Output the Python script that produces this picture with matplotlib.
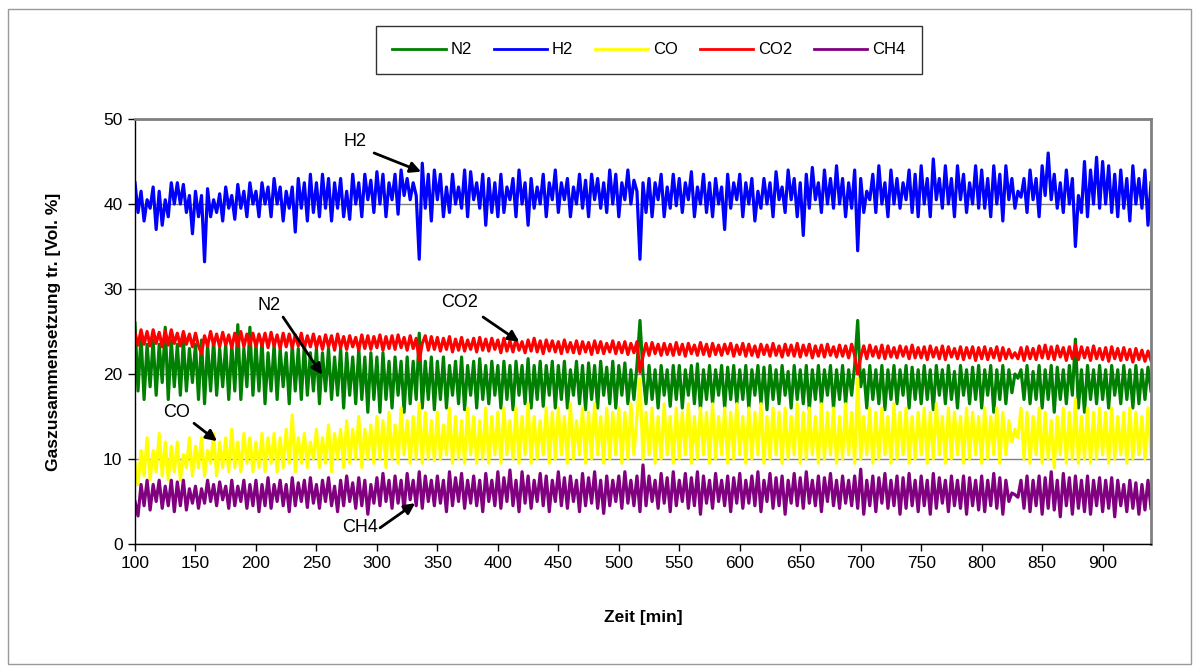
import numpy as np
import matplotlib
matplotlib.use("Agg")
import matplotlib.pyplot as plt
from matplotlib.patches import Rectangle

plt.rcParams['font.family'] = ['Liberation Sans', 'DejaVu Sans']

t_start = 100.0
t_step = 2.5

h2 = [
    42.5, 39, 41.5, 38, 40.5, 39.5, 42, 37, 41.5, 37.5, 40.5, 38.5, 42.5, 40, 42.5, 40, 42.3, 39, 41, 36.5,
    41.5, 38.5, 41, 33.2, 41.8, 38.5, 40.5, 39, 41.2, 38, 42, 39.5, 41, 38.2, 42.3, 39.5, 41.5, 38.5, 42.5, 40,
    41.5, 38.5, 42.5, 40, 42, 38.5, 43, 40, 42, 38, 41.5, 39.5, 42, 36.7, 43, 39.5, 42.5, 38, 43.5, 39,
    42.5, 38.5, 43.5, 39.5, 43, 38, 42.5, 39.5, 43, 38.5, 41.5, 38.2, 43.5, 40, 42.5, 38.5, 43.5, 40.5, 42.8, 39,
    43.8, 40, 43.5, 38.5, 42.5, 40.5, 43.5, 38.8, 44, 41, 43, 40.5, 42.5, 41, 33.5, 44.8, 39.5, 43.5, 38, 44,
    40.5, 43.5, 38.5, 42, 39, 43.5, 40, 42, 39.5, 44, 38.5, 43.8, 40.5, 42.5, 39.5, 43.5, 37.5, 43, 39, 42.5,
    38.5, 43.5, 39, 42, 40.5, 43, 38.5, 44, 40, 42.5, 37.5, 43, 39.5, 42, 40, 43.5, 38.5, 42.5, 40.5, 44,
    39, 42.5, 40.5, 43, 38.5, 42, 40, 43.5, 39.5, 42.8, 38.5, 43.5, 40.5, 43, 39.5, 42.5, 39, 44, 40, 43.5,
    38.5, 42.5, 40.5, 44, 40, 42.8, 41.5, 33.5, 42.5, 39, 43, 38.5, 42.5, 40.5, 43.5, 38.5, 42, 39.5, 43.5, 39.8,
    43, 39, 42.5, 40.5, 43.8, 38.5, 42, 40, 43.5, 39, 42.5, 38.5, 43, 40, 42, 37, 43.5, 39.5, 42.5, 40.5,
    43.5, 38.5, 42.5, 40, 43, 38, 41.5, 39.5, 43, 40, 42.5, 38.5, 43.8, 40.5, 42, 39, 44, 40.5, 43, 38.5,
    42.5, 36.3, 43.5, 39.5, 44.3, 40.5, 42.5, 39, 44, 40, 43, 39.5, 44.5, 40, 43, 38.5, 42.5, 39.5, 44, 34.5,
    43, 39, 41.5, 40.5, 43.5, 39, 44.5, 40, 42.5, 38.5, 44, 40, 43, 39.5, 42.5, 40.5, 44, 39, 43.5, 38.5,
    44.5, 40, 43, 38.5, 45.3, 40.5, 43, 39.5, 44.5, 40, 43, 38.5, 44.5, 40.5, 43.5, 39, 42.5, 40, 44.5, 39.5,
    44, 39.5, 43, 38.5, 44.5, 40, 43.5, 38, 44.5, 40.5, 43, 39.5, 41.5, 40.8, 43, 39, 44, 40.5, 43, 38.5,
    44.5, 41, 46, 40.5, 43.5, 39.5, 42.5, 39, 44, 40, 43, 35, 41, 39, 45, 38.5, 44, 40, 45.5, 39.5,
    45, 40, 44.5, 39, 43.5, 38.5, 44, 39.5, 43, 38, 44.5, 40, 43, 39.5, 44, 37.5, 42.5,
]

co2 = [
    24.8, 23.4, 25.2, 23.5, 25, 23.3, 25.2, 23.6, 24.9, 23.2, 25.1, 23.4, 25.2, 23.6, 24.8, 23.3, 25, 23.5, 24.7, 23.2,
    24.8, 23.3, 22.4, 24.5, 23.3, 25, 23.4, 24.7, 23.2, 24.9, 23.4, 24.6, 23.1, 24.8, 23.3, 25, 23.2, 24.7, 23.4, 24.8,
    23.2, 24.7, 23.3, 24.8, 23.1, 24.9, 23.3, 24.6, 23, 24.8, 23.2, 24.7, 23.1, 24.6, 23.3, 24.8, 23, 24.5, 23.2, 24.7,
    23.1, 24.4, 22.9, 24.6, 23.2, 24.5, 22.8, 24.7, 23.1, 24.4, 22.9, 24.5, 23.2, 24.3, 22.8, 24.6, 23, 24.5, 22.9, 24.4,
    23.1, 24.6, 22.8, 24.4, 23, 24.5, 22.9, 24.6, 23.1, 24.3, 22.8, 24.5, 23, 24.2, 21.6, 23.6, 24.5, 22.8, 24.4, 22.9,
    24.3, 22.7, 24.2, 22.9, 24.4, 22.6, 24.1, 22.8, 24.3, 22.7, 24, 22.9, 24.2, 22.6, 24.3, 22.8, 24.1, 22.7, 24.2, 22.9,
    24, 22.5, 24.2, 22.7, 23.9, 22.6, 24.1, 22.8, 23.8, 22.5, 24, 22.7, 24.2, 22.6, 23.9, 22.4, 24, 22.7, 23.9, 22.6,
    23.8, 22.4, 24, 22.6, 23.7, 22.5, 23.9, 22.4, 23.8, 22.6, 23.7, 22.3, 23.9, 22.5, 23.8, 22.4, 23.6, 22.6, 23.9, 22.4,
    23.7, 22.5, 23.8, 22.3, 23.6, 22.5, 23.8, 20.2, 22.1, 23.6, 22.2, 23.7, 22.4, 23.5, 22.2, 23.6, 22.3, 23.5, 22.2, 23.7,
    22.3, 23.5, 22.1, 23.6, 22.4, 23.4, 22.2, 23.7, 22.3, 23.5, 22.1, 23.6, 22.3, 23.4, 22.2, 23.5, 22.4, 23.6, 22.1, 23.4,
    22.3, 23.6, 22.1, 23.5, 22.2, 23.3, 22, 23.5, 22.3, 23.4, 22.1, 23.6, 22.2, 23.3, 22, 23.5, 22.2, 23.4, 22.1, 23.6,
    22, 23.4, 22.2, 23.5, 21.9, 23.3, 22.1, 23.4, 22, 23.5, 22.2, 23.2, 22, 23.4, 22.1, 23.3, 21.9, 23.5, 22.2, 20,
    22, 23.3, 21.8, 23.4, 22.1, 23.2, 21.9, 23.4, 21.8, 23.3, 22, 23.1, 21.9, 23.3, 22.1, 23.2, 21.8, 23.4, 21.9, 23.1,
    21.9, 23.2, 21.7, 23.3, 22, 23.1, 21.8, 23.3, 21.7, 23.2, 22, 23, 21.8, 23.2, 21.7, 23.1, 21.9, 23.2, 21.6, 23.1,
    21.8, 23.2, 21.7, 23, 21.9, 23.2, 21.6, 23.1, 21.8, 22.9, 21.9, 22.5, 21.8, 23.1, 21.6, 23.2, 21.8, 23, 21.7, 23.3,
    21.9, 23.4, 21.8, 23.2, 21.7, 23.3, 22, 23.1, 21.6, 23.2, 21.8, 23.4, 21.7, 23.2, 21.9, 23.1, 21.6, 23.3, 21.8, 23,
    21.7, 23.1, 21.5, 23.2, 21.8, 23, 21.6, 23.1, 21.7, 22.9, 21.4, 23, 21.7, 22.8, 21.5, 22.7, 21.6,
]

n2 = [
    26, 18, 24.5, 17, 23.5, 18.5, 24, 17.5, 23.5, 19, 25.5, 17, 24, 18.5, 23.5, 17.5, 24, 18, 23, 19,
    23.5, 17, 24, 16.5, 23.5, 18, 24, 17.5, 23, 18.5, 23.5, 17, 23.5, 18, 25.8, 17, 23, 18.5, 25.5, 17.5,
    23.5, 18, 24, 16.5, 22.5, 18, 23.5, 17, 23, 18.5, 22.5, 16.5, 23.5, 18, 23, 17, 23.5, 17.5, 22.5, 18,
    23, 16.5, 22.5, 18, 23, 17, 22, 17.5, 23, 16, 22.5, 17.5, 22, 16.5, 23, 17, 22, 15.5, 22.5, 17,
    22, 15.5, 22.5, 17, 21.5, 16, 22, 17.5, 21.5, 15.5, 22, 16.5, 21.5, 17, 24.8, 16, 21.5, 17, 22, 15.8,
    21.5, 17, 22, 16, 21, 17.5, 21.5, 16.5, 22, 15.8, 21, 17.5, 21.5, 16, 21.8, 17, 21, 16.5, 21.5, 17.5,
    21, 16, 21.5, 17, 21, 15.8, 21.5, 17.5, 21, 16.5, 21.8, 16, 21, 17, 21.5, 16.2, 21, 17.5, 21.5, 16,
    21, 17, 21.5, 16, 20.5, 17.5, 21.5, 16.5, 21, 15.8, 21.3, 17, 21, 16, 21.5, 17.5, 20.8, 16.5, 21.5, 16,
    21, 17.5, 21.3, 16.5, 20.5, 17, 21, 26.3, 20, 16.5, 21, 17, 20.5, 16, 21, 17.5, 20.5, 16.2, 21, 17,
    21, 16, 20.5, 17.5, 21, 16.5, 21.2, 15.8, 20.5, 17, 21, 16.5, 20.5, 17.5, 21, 16, 20.8, 17, 21, 16.5,
    20.5, 17, 21, 16, 20.5, 17.5, 21, 16.5, 20.8, 15.8, 21, 17, 20.5, 16.5, 21, 17.5, 20.3, 16, 21, 17,
    20.5, 16.5, 21, 15.8, 20.5, 17, 21, 16.5, 20.5, 17.5, 21, 16, 20.5, 17, 21, 16.5, 20.5, 17.5, 21, 26.3,
    18.5, 20.5, 16, 21, 17, 20.5, 16.5, 21, 15.8, 20.5, 17, 21, 16.5, 20.5, 17.5, 21, 16, 20.8, 17, 20.5,
    16.5, 21, 17, 20.5, 15.8, 21, 17.5, 20.5, 16.5, 21, 17, 20.3, 16, 21, 17.5, 20.5, 16.5, 20.8, 17, 21,
    16, 20.5, 17.5, 21, 15.5, 20.5, 17, 21, 16.5, 20.5, 17.8, 20, 19.5, 20.5, 17, 21, 16.5, 20.3, 17, 21,
    16, 20.5, 17, 21, 15.5, 20.8, 17, 20.5, 16.5, 21, 17.5, 24.1, 16, 20.5, 15.5, 21, 17, 20.5, 16.5, 21,
    17, 20.5, 16, 21, 17.5, 20.5, 16.5, 21, 17, 20.5, 16, 21, 16.5, 20.5, 17, 20.8, 18,
]

co = [
    9.5, 7, 11, 8, 12.5, 7.5, 11, 8.5, 13, 8, 12, 7.5, 11.5, 8.5, 12, 7.5, 10.5, 9, 12.5, 8,
    11.5, 9, 12.5, 8, 11, 9.5, 13, 8, 12, 9, 12.5, 8.5, 13.5, 9, 12, 8.5, 13, 9.5, 12.5, 8.5,
    12, 9, 13, 8.5, 12.5, 9.5, 13, 8.5, 12.5, 9, 13.5, 9.5, 15.2, 8.5, 12.5, 9.5, 13, 9, 12, 10,
    13.5, 9, 12.5, 9.5, 14, 8.5, 13, 10, 13.5, 9, 14.5, 9.5, 13.5, 10, 15, 9, 13.5, 10, 14, 9.5,
    15, 10, 14.5, 9, 15.5, 10, 14, 9.5, 16, 10.5, 14.5, 9.5, 15, 10, 16.5, 9.5, 15.5, 10, 14.5, 9.8,
    15.5, 10, 14, 10.5, 16, 9.5, 15, 10, 14.5, 9.5, 16, 10.5, 15, 9.5, 14.5, 10, 16, 9.5, 15, 10.5,
    15.5, 9.5, 16, 10.5, 14.5, 10, 16, 9.5, 15, 10.5, 16.5, 9.5, 15, 10, 14.5, 10.5, 16, 9.5, 15.5, 10,
    16, 10.5, 15, 9.5, 16.5, 10, 14.5, 10.5, 16, 9.5, 15.5, 10, 16.5, 10.5, 15, 9.5, 16, 10, 15.5, 10.5,
    16, 9.5, 15.5, 10, 16.5, 10.5, 15, 19.5, 10, 15.5, 10.5, 16, 9.5, 15, 10, 16.5, 10.5, 15, 9.5, 16,
    10, 15.5, 10.5, 16.5, 9.5, 15, 10, 16, 10.5, 15.5, 9.5, 16.5, 10, 15, 10.5, 16, 9.5, 15.5, 10, 16.5,
    10.5, 15, 9.5, 16, 10, 15.5, 10.5, 16.5, 9.5, 15, 10, 16, 10.5, 15.5, 9.5, 16, 10, 15, 10.5, 16.5,
    9.5, 15.5, 10, 16, 10.5, 15, 9.5, 16.5, 10, 15.5, 10.5, 16, 9.5, 15, 10, 16.5, 10.5, 15.5, 9.5, 19.5,
    10, 15, 10.5, 16, 9.5, 15.5, 10, 16, 10.5, 15, 9.5, 16.5, 10, 15.5, 10.5, 16, 9.5, 15, 10, 15.5,
    10.5, 16, 9.5, 15.5, 10, 16.5, 10.5, 15, 9.5, 16, 10, 15.5, 10.5, 15, 9.5, 16, 10, 15.5, 10.5, 15,
    9.5, 16, 10, 15, 10.5, 16, 9.5, 15.5, 10.5, 14.5, 12, 13.5, 12.5, 16, 10, 15.5, 9.5, 15, 10.5, 16,
    9.5, 15.5, 10, 14.5, 9, 15, 10.5, 16, 9.5, 15.5, 10, 17, 9.5, 15, 10, 16, 9.5, 15.5, 10, 16,
    10.5, 15.5, 9.5, 16, 10, 15, 10.5, 15.5, 9.5, 16, 10, 15.5, 10.5, 15, 10, 16, 10.5,
]

ch4 = [
    5, 3.3, 7, 4.5, 7.5, 4, 7, 5, 7.5, 4.2, 6.8, 4.5, 7.5, 3.8, 7.3, 4.5, 7.5, 4, 6.5, 4.8,
    6.8, 4.2, 6.5, 4.8, 7.5, 5, 7, 4.5, 7.3, 5.2, 6.8, 4.2, 7.5, 4.5, 6.8, 5, 7.5, 4.2, 7, 4.5,
    7.5, 3.8, 7, 4.5, 7.8, 4.2, 7, 5, 7.5, 4.5, 7, 3.8, 7.8, 4.5, 7.2, 5, 7.5, 4.3, 7.8, 4.8,
    7, 4.2, 7.5, 5, 7.8, 4.5, 6.8, 3.8, 7.5, 4.5, 8, 5, 7.2, 4.2, 7.8, 4.5, 7.5, 3.5, 7, 4.8,
    7.8, 4.5, 8.3, 5, 7.5, 4.2, 8, 4.8, 7.5, 4, 8.3, 5.2, 7.5, 4.5, 8.5, 4.2, 8, 5, 7.5, 4.5,
    8, 4.8, 7.5, 3.8, 8.5, 4.5, 7.8, 5, 8.3, 4.2, 7.5, 4.8, 8, 4.5, 7.5, 3.8, 8.3, 5, 7.5, 4.5,
    8.5, 4.2, 7.8, 5, 8.7, 4.5, 7.5, 3.8, 8.5, 4.8, 8, 4.2, 7.5, 5, 8.3, 4.5, 8, 3.8, 7.5, 5,
    8.5, 4.5, 7.8, 4.2, 8, 5, 7.5, 3.8, 8.3, 4.5, 7.8, 4.8, 8.5, 4.2, 7.5, 3.6, 8, 4.5, 7.5, 5,
    8, 4.2, 8.5, 4.8, 7.5, 4.5, 8, 3.8, 9.3, 4.5, 8, 5, 7.5, 4.2, 8.3, 4.8, 7.8, 3.8, 8.5, 4.5,
    7.5, 5, 8.3, 4.2, 7.8, 4.5, 8.5, 3.5, 8, 4.8, 7.5, 4.2, 8.3, 5, 7.5, 4.5, 8, 3.8, 7.8, 4.8,
    8.3, 4.2, 7.5, 4.8, 8, 4.5, 8.5, 3.8, 7.5, 5, 8.3, 4.2, 7.8, 4.5, 8, 3.5, 7.5, 4.8, 8.3, 4.5,
    7.8, 4.2, 8.5, 4.8, 7.5, 4.5, 8, 3.8, 7.8, 5, 8.3, 4.5, 7.5, 4.2, 8, 4.8, 7.5, 4.5, 8, 4.2,
    8.8, 3.5, 7.5, 4.5, 8, 3.8, 7.8, 4.8, 8.3, 4.2, 7.5, 4.5, 8, 3.5, 7.8, 4.2, 8.3, 4.5, 7.5, 3.8,
    8, 4.5, 7.5, 3.5, 8.3, 4.2, 7.8, 4.8, 7.5, 3.8, 8, 4.5, 7.5, 4.2, 8, 3.5, 7.8, 4.5, 7.5, 4,
    8, 3.8, 7.5, 4.5, 8.3, 4.2, 7.8, 3.5, 7.5, 5, 6, 5.8, 5.5, 7.5, 4.2, 8, 3.8, 7.5, 4.5, 8,
    3.5, 7.8, 4.2, 8.5, 4, 7.5, 3.2, 8.3, 4.5, 7.8, 3.5, 8, 4.2, 7.5, 3.8, 8, 3.5, 7.5, 4.5, 7.8,
    3.8, 7.5, 4.2, 7.8, 3.2, 7.5, 4.5, 7, 3.8, 7.5, 4.2, 7.2, 3.5, 7, 4, 7.5, 4.2,
]

series_names = ["N2", "H2", "CO", "CO2", "CH4"]
series_values = [n2, h2, co, co2, ch4]
series_colors = ["#008000", "#0000FF", "#FFFF00", "#FF0000", "#800080"]

x_ticks = list(range(100, 901, 50))
y_ticks = [0, 10, 20, 30, 40, 50]

fig = plt.figure(figsize=(12, 6.72), dpi=100)
# outer frame
fig.patches.append(Rectangle((8 / 1200, 8 / 672), 1183 / 1200, 655 / 672, transform=fig.transFigure,
                             fill=False, edgecolor="#999999", linewidth=1.0))

ax = fig.add_axes([135 / 1200, 1 - 544 / 672, (1151 - 135) / 1200, (544 - 119) / 672])

for name, vals, col in zip(series_names, series_values, series_colors):
    tt = t_start + t_step * np.arange(len(vals))
    ax.plot(tt, vals, color=col, lw=2.3, label=name, solid_joinstyle="round")

ax.set_xlim(100, 940)
ax.set_ylim(0, 50)
ax.set_xticks(x_ticks)
ax.set_yticks(y_ticks)
ax.tick_params(axis="both", direction="out", length=5, width=1, labelsize=12.5, color="black", pad=4)
ax.yaxis.grid(True, color="#808080", lw=1)
ax.set_axisbelow(True)
for s in ["top", "right"]:
    ax.spines[s].set_color("#808080")
    ax.spines[s].set_linewidth(2)
for s in ["left", "bottom"]:
    ax.spines[s].set_color("black")
    ax.spines[s].set_linewidth(1)

ax.set_xlabel("Zeit [min]", fontsize=12.5, fontweight="bold", labelpad=28)
ax.set_ylabel("Gaszusammensetzung tr. [Vol. %]", fontsize=12.5, fontweight="bold", labelpad=30)

leg_handles = [plt.Line2D([], [], color=c, lw=2) for c in series_colors]
leg = fig.legend(leg_handles, series_names, loc="center", ncol=5,
                 bbox_to_anchor=(649 / 1200, 1 - 50 / 672), fontsize=12, frameon=True,
                 fancybox=False, edgecolor="black", handlelength=3.2, handletextpad=0.3,
                 columnspacing=1.3, borderpad=1.0)
leg.get_frame().set_linewidth(1)

# annotations: (label, text pos, arrow start, arrow tip) in data coordinates
annots = [
    ("H2", (282, 47.3), (297.7, 46.0), (336.6, 43.8)),
    ("N2", (210.8, 28.1), (222.4, 26.7), (254.7, 19.9)),
    ("CO2", (368, 28.4), (387.8, 26.7), (417.6, 23.8)),
    ("CO", (134.7, 15.5), (148.8, 14.2), (167.8, 12.1)),
    ("CH4", (286, 2.0), (302.6, 1.9), (331.6, 4.8)),
]
for label, tpos, start, tip in annots:
    ax.text(tpos[0], tpos[1], label, fontsize=13, ha="center", va="center", zorder=10)
    ax.annotate("", xy=tip, xytext=start,
                arrowprops=dict(arrowstyle="-|>", color="black", lw=2, mutation_scale=16,
                                shrinkA=0, shrinkB=0), zorder=10)

fig.savefig("out.png", dpi=100)
